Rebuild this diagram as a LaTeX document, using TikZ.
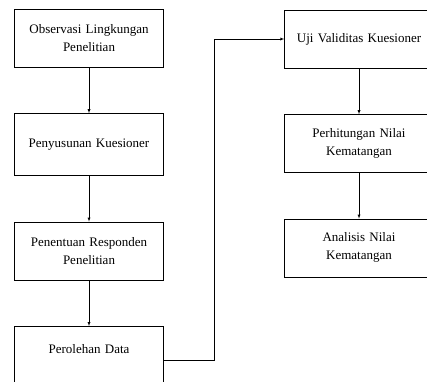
\documentclass[tikz,border=0pt]{standalone}
\usepackage{fontspec}
\setmainfont{Liberation Serif}
\usetikzlibrary{shapes,arrows,positioning}
\tikzstyle{Block} = [draw, rectangle, text width=141pt, inner xsep=4pt, minimum height=58pt, align=center, font=\fontsize{13}{18}\selectfont]

\begin{document}
\begin{tikzpicture}[>=latex, node distance=46pt, x=1pt, y=-1pt]
    \useasboundingbox (0,0) rectangle (427,381);
    \node[Block] (observasi)                       at (89,38)  {Observasi Lingkungan\\Penelitian};
    \node[Block, minimum height=62pt] (kuesioner)  [below=of observasi] {Penyusunan Kuesioner};
    \node[Block] (responden)                       [below=of kuesioner] {Penentuan Responden\\Penelitian};
    \node[Block, text height=24pt, text depth=37pt] (data) [below=of responden] {Perolehan Data};
    \node[Block] (validitas)                       at (359,39) {Uji Validitas Kuesioner};
    \node[Block] (perhitungan)                     [below=of validitas]   {Perhitungan Nilai\\Kematangan};
    \node[Block] (analisis)                        [below=of perhitungan] {Analisis Nilai\\Kematangan};
    \draw[->] (observasi)   -- (kuesioner);
    \draw[->] (kuesioner)   -- (responden);
    \draw[->] (responden)   -- (data);
    \draw[->] (data.east)   -| ([xshift=-70pt]validitas.west) -- (validitas.west);
    \draw[->] (validitas)   -- (perhitungan);
    \draw[->] (perhitungan) -- (analisis);
\end{tikzpicture}
\end{document}
